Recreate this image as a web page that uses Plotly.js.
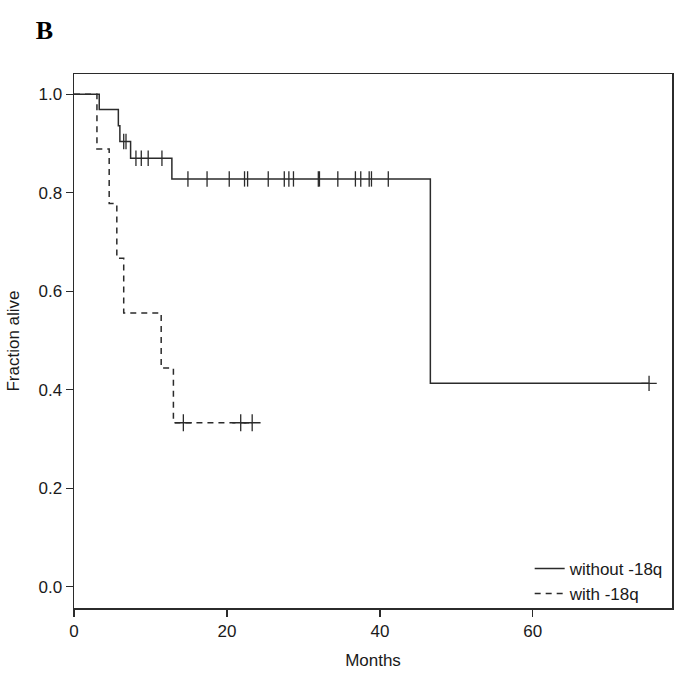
<!DOCTYPE html>
<html>
<head>
<meta charset="utf-8">
<script src="https://cdn.plot.ly/plotly-3.0.1.min.js"></script>
<style>html,body{margin:0;padding:0;background:#fff;}#chart{width:688px;height:674px;}</style>
</head>
<body>
<div id="chart"></div>
<script>
// Kaplan-Meier step data
const withoutTimes = [0, 3.3, 5.8, 6.0, 7.4, 12.8, 46.6, 75.2];
const withoutSurv  = [1.0, 0.969, 0.936, 0.904, 0.870, 0.828, 0.413, 0.413];
const withoutCensor = [6.5, 6.8, 8.1, 8.8, 9.7, 11.5, 14.9, 17.4, 20.3, 22.3, 22.7, 25.4, 27.5, 28.1, 28.7, 31.95, 32.1, 34.5, 36.8, 37.5, 38.6, 38.9, 41.1, 75.2];

const withTimes = [0, 3.0, 4.6, 5.6, 6.5, 11.4, 13.0, 23.3];
const withSurv  = [1.0, 0.889, 0.778, 0.667, 0.556, 0.444, 0.333, 0.333];
const withCensor = [14.3, 21.8, 23.3];

const seriesNames = ["without -18q", "with -18q"];
const xTickVals = [0, 20, 40, 60];
const yTickVals = [0.0, 0.2, 0.4, 0.6, 0.8, 1.0];

function survAt(times, surv, t) {
  let s = surv[0];
  for (let i = 0; i < times.length; i++) { if (times[i] <= t) s = surv[i]; }
  return s;
}

const lineColor = "#2b2b2b";
const font = "Liberation Sans, Arial, sans-serif";

const traces = [
  {x: withoutTimes, y: withoutSurv, mode: "lines", line: {shape: "hv", color: lineColor, width: 1.5}, name: seriesNames[0]},
  {x: withTimes, y: withSurv, mode: "lines", line: {shape: "hv", color: lineColor, width: 1.5, dash: "6px,5px"}, name: seriesNames[1]},
  {x: withoutCensor, y: withoutCensor.map(t => survAt(withoutTimes, withoutSurv, t)), mode: "markers", showlegend: false, hoverinfo: "skip",
   marker: {symbol: withoutCensor.map(t => t > 70 ? "cross-thin" : "line-ns"), size: 11, line: {color: lineColor, width: 1.3}}},
  {x: withCensor, y: withCensor.map(t => survAt(withTimes, withSurv, t)), mode: "markers", showlegend: false, hoverinfo: "skip",
   marker: {symbol: "cross-thin", size: 12, line: {color: lineColor, width: 1.3}}}
];

const layout = {
  width: 688, height: 674,
  paper_bgcolor: "#fff", plot_bgcolor: "#fff",
  margin: {l: 74, r: 16, t: 74, b: 66},
  font: {family: font, size: 17, color: "#1a1a1a"},
  title: {text: "<b>B</b>", x: 0.052, xref: "container", xanchor: "left", y: 0.955, yref: "container", yanchor: "middle",
          font: {family: "Liberation Serif, Times New Roman, serif", size: 26, color: "#000"}},
  xaxis: {range: [0, 78.2], tickvals: xTickVals, ticks: "outside", ticklen: 7, tickcolor: lineColor, tickwidth: 1.3,
          showline: true, mirror: true, linecolor: lineColor, linewidth: 1.5, showgrid: false, zeroline: false,
          tickfont: {size: 17}, title: {text: "Months", font: {size: 17}, standoff: 14}},
  yaxis: {range: [-0.043, 1.041], tickvals: yTickVals, tickformat: ".1f", ticks: "outside", ticklen: 7, tickcolor: lineColor, tickwidth: 1.3,
          showline: true, mirror: true, linecolor: lineColor, linewidth: 1.5, showgrid: false, zeroline: false,
          tickfont: {size: 17}, title: {text: "Fraction alive", font: {size: 17}, standoff: 14}},
  showlegend: true,
  legend: {x: 0.762, xanchor: "left", y: 0.107, yanchor: "top", bgcolor: "rgba(0,0,0,0)", font: {size: 17}, tracegroupgap: 0}
};

Plotly.newPlot("chart", traces, layout, {displayModeBar: false, staticPlot: true});
</script>
</body>
</html>
